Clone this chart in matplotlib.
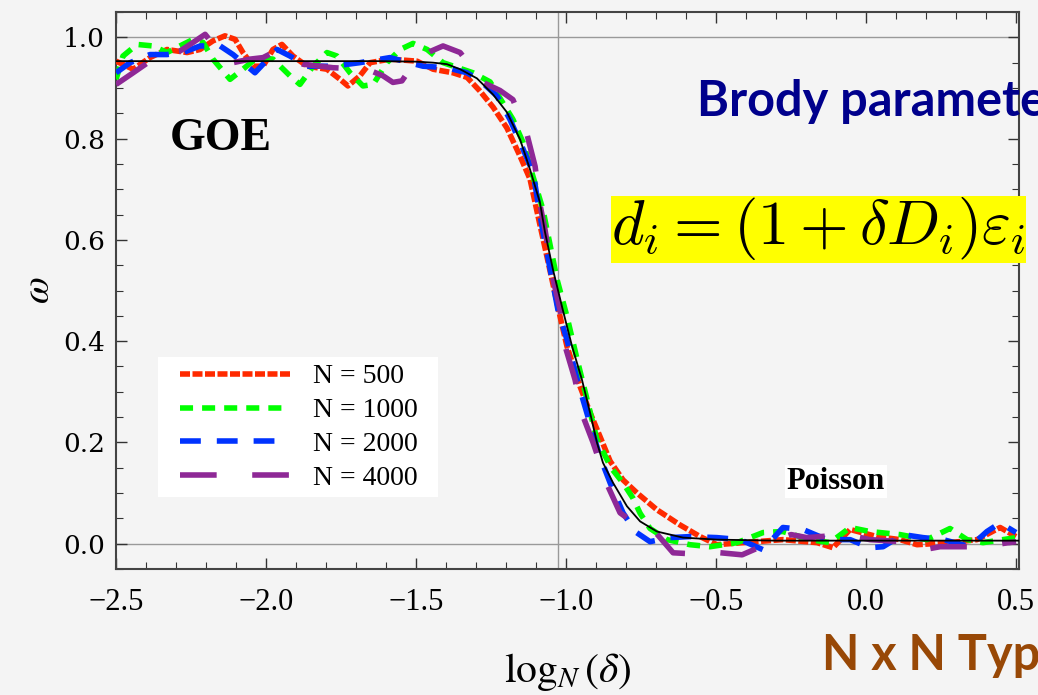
import matplotlib
matplotlib.use("Agg")
import matplotlib.pyplot as plt
from matplotlib.ticker import MultipleLocator
from matplotlib.patches import Rectangle

plt.rcParams['lines.scale_dashes'] = False
plt.rcParams['mathtext.fontset'] = 'stix'

# Brody parameter omega vs log_N(delta) for several matrix sizes
x500 = [-2.50, -2.443, -2.387, -2.33, -2.263, -2.22, -2.177, -2.137, -2.103, -2.077,
        -2.043, -2.01, -1.977, -1.947, -1.91, -1.863, -1.797, -1.753, -1.727, -1.687,
        -1.653, -1.587, -1.497, -1.443, -1.377, -1.33, -1.287, -1.243, -1.197, -1.153,
        -1.12, -1.093, -1.047, -1.02, -0.997, -0.953, -0.92, -0.887, -0.853, -0.81,
        -0.763, -0.697, -0.62, -0.553, -0.497, -0.41, -0.277, -0.163, -0.11, -0.053,
        0.037, 0.113, 0.17, 0.28, 0.37, 0.447, 0.50]
w500 = [0.953, 0.937, 0.96, 0.976, 0.97, 0.976, 0.993, 1.003, 0.996, 0.97,
        0.943, 0.943, 0.976, 0.986, 0.963, 0.943, 0.937, 0.917, 0.904, 0.924,
        0.95, 0.957, 0.953, 0.937, 0.93, 0.921, 0.894, 0.862, 0.821, 0.765,
        0.72, 0.646, 0.522, 0.449, 0.39, 0.31, 0.259, 0.212, 0.163, 0.126,
        0.1, 0.067, 0.037, 0.014, -0.002, 0.002, 0.008, 0.002, -0.008, 0.028,
        0.014, 0.008, -0.002, 0.002, 0.008, 0.032, 0.014]

x1000 = [-2.50, -2.477, -2.43, -2.377, -2.33, -2.287, -2.243, -2.21, -2.177, -2.12,
         -2.077, -2.03, -1.977, -1.92, -1.887, -1.843, -1.797, -1.763, -1.72, -1.677,
         -1.643, -1.597, -1.553, -1.51, -1.463, -1.41, -1.31, -1.253, -1.21, -1.177,
         -1.143, -1.11, -1.077, -1.03, -0.997, -0.963, -0.93, -0.897, -0.85, -0.81,
         -0.777, -0.753, -0.72, -0.663, -0.587, -0.52, -0.43, -0.343, -0.277, -0.187,
         -0.12, -0.053, 0.013, 0.113, 0.203, 0.28, 0.337, 0.39, 0.50]
w1000 = [0.917, 0.963, 0.986, 0.983, 0.97, 0.983, 0.996, 0.99, 0.957, 0.917,
         0.937, 0.96, 0.957, 0.924, 0.907, 0.943, 0.97, 0.963, 0.93, 0.904,
         0.907, 0.95, 0.976, 0.988, 0.976, 0.95, 0.93, 0.912, 0.87, 0.838,
         0.792, 0.725, 0.66, 0.522, 0.449, 0.364, 0.285, 0.206, 0.15, 0.12,
         0.09, 0.06, 0.03, 0.008, -0.002, -0.006, 0.002, 0.022, 0.024, 0.008,
         0.002, 0.032, 0.024, 0.018, 0.008, 0.03, 0.008, 0.002, 0.012]

x2000 = [-2.50, -2.453, -2.387, -2.33, -2.277, -2.22, -2.153, -2.11, -2.063, -2.037,
         -2.01, -1.963, -1.92, -1.863, -1.777, -1.687, -1.587, -1.477, -1.397, -1.33,
         -1.287, -1.23, -1.187, -1.143, -1.11, -1.08, -1.027, -0.997, -0.96, -0.927,
         -0.887, -0.853, -0.81, -0.77, -0.72, -0.653, -0.587, -0.497, -0.42, -0.343,
         -0.277, -0.21, -0.13, -0.053, 0.013, 0.057, 0.123, 0.19, 0.257, 0.347,
         0.403, 0.447, 0.50]
w2000 = [0.93, 0.95, 0.966, 0.966, 0.97, 0.983, 0.983, 0.966, 0.943, 0.93,
         0.947, 0.976, 0.963, 0.943, 0.943, 0.95, 0.96, 0.943, 0.94, 0.93,
         0.915, 0.884, 0.838, 0.779, 0.733, 0.626, 0.462, 0.403, 0.318, 0.251,
         0.172, 0.12, 0.061, 0.024, 0.004, 0.012, 0.014, 0.012, 0.008, -0.012,
         0.032, 0.028, 0.008, 0.008, -0.008, -0.006, 0.018, 0.012, 0.008, -0.006,
         0.024, 0.041, 0.022]

x4000 = [-2.50, -2.443, -2.387, -2.33, -2.287, -2.243, -2.203, -2.163, -2.11, -2.053,
         -2.01, -1.977, -1.93, -1.877, -1.777, -1.663, -1.61, -1.577, -1.547, -1.497,
         -1.453, -1.41, -1.353, -1.277, -1.22, -1.177, -1.13, -1.103, -1.087, -1.07,
         -1.043, -1.02, -1.003, -0.97, -0.943, -0.91, -0.86, -0.82, -0.76, -0.71,
         -0.643, -0.58, -0.52, -0.413, -0.297, -0.25, -0.197, -0.063, 0.013, 0.17,
         0.21, 0.247, 0.38, 0.50]
w4000 = [0.907, 0.93, 0.953, 0.97, 0.973, 0.99, 1.006, 0.976, 0.95, 0.957,
         0.96, 0.97, 0.963, 0.947, 0.94, 0.937, 0.924, 0.911, 0.914, 0.957,
         0.972, 0.983, 0.97, 0.911, 0.895, 0.877, 0.808, 0.745, 0.67, 0.62,
         0.522, 0.462, 0.39, 0.324, 0.251, 0.2, 0.113, 0.061, 0.035, 0.028,
         -0.018, -0.02, -0.016, -0.022, 0.008, 0.018, 0.012, 0.018, 0.008, 0.002,
         -0.01, -0.006, -0.006, 0.004]

# fitted crossover curve
xfit = [-2.50, -1.62, -1.50, -1.443, -1.397, -1.353, -1.297, -1.243, -1.197, -1.153,
        -1.12, -1.087, -1.07, -1.043, -1.01, -0.98, -0.947, -0.92, -0.897, -0.877,
        -0.843, -0.797, -0.753, -0.697, -0.61, -0.497, -0.30, 0.51]
wfit = [0.953, 0.953, 0.952, 0.95, 0.947, 0.937, 0.919, 0.887, 0.852, 0.798,
        0.739, 0.674, 0.615, 0.54, 0.46, 0.39, 0.324, 0.259, 0.2, 0.16,
        0.12, 0.074, 0.044, 0.024, 0.012, 0.008, 0.006, 0.006]

labels = ["N = 500", "N = 1000", "N = 2000", "N = 4000"]
colors = ["#ff2a00", "#00ff00", "#0033ff", "#8e2896"]
dashes = [(7.2, 1.8), (9.4, 6.5), (15, 11.5), (26.4, 25.6)]

W, H = 1038, 695
bg = "#f4f4f4"
fig = plt.figure(figsize=(W / 100, H / 100), dpi=100, facecolor=bg)
ax = fig.add_axes([0.1118, 0.1813, 0.8699, 0.8014], facecolor=bg)

ax.axhline(0, color="#999999", lw=1, zorder=1)
ax.axhline(1, color="#999999", lw=1, zorder=1)
ax.axvline(-1.026, color="#999999", lw=1, zorder=1)

series = [(x500, w500), (x1000, w1000), (x2000, w2000), (x4000, w4000)]
for (xs, ws), lab, c, d in zip(series, labels, colors, dashes):
    ax.plot(xs, ws, color=c, lw=4, dashes=d, label=lab, zorder=3)
ax.plot(xfit, wfit, color="black", lw=1.3, zorder=4)

ax.set_xlim(-2.5, 0.51)
ax.set_ylim(-0.05, 1.05)
ax.xaxis.set_major_locator(MultipleLocator(0.5))
ax.xaxis.set_minor_locator(MultipleLocator(0.1))
ax.yaxis.set_major_locator(MultipleLocator(0.2))
ax.yaxis.set_minor_locator(MultipleLocator(0.05))
ax.tick_params(which="both", direction="in", top=True, right=True, color="#333333")
ax.tick_params(which="major", length=8, width=1)
ax.tick_params(which="minor", length=5, width=0.8)
ax.tick_params(axis="x", pad=14)
ax.tick_params(axis="y", pad=8)
for s in ax.spines.values():
    s.set_color("#444444")
    s.set_linewidth(1.5)

for t in ax.get_xticklabels():
    t.set_fontfamily("Liberation Serif")
    t.set_fontsize(22)
for t in ax.get_yticklabels():
    t.set_fontfamily("DejaVu Serif")
    t.set_fontsize(19)

ax.set_xlabel(r"$\log_N(\delta)$", fontsize=30, labelpad=24)
ax.set_ylabel(r"$\omega$", fontsize=28, labelpad=4)

# white legend panel, drawn separately so its padding can differ per side
ax.add_patch(Rectangle((158 / W, 1 - 497 / H), 280 / W, 140 / H,
                       transform=fig.transFigure, facecolor="white",
                       edgecolor="none", zorder=4.5, clip_on=False))
leg = ax.legend(loc="upper left", bbox_to_anchor=(180 / W, 1 - 364 / H),
                bbox_transform=fig.transFigure, borderaxespad=0, borderpad=0,
                prop={"family": "Liberation Serif", "size": 20},
                handlelength=3.96, handletextpad=0.83, labelspacing=0.3,
                frameon=False)
leg.set_zorder(5)

ax.text(-2.15, 0.80, "GOE", ha="center", va="center", fontsize=33,
        fontweight="bold", family="Liberation Serif")
ax.text(-0.1, 0.123, "Poisson", ha="center", va="center", fontsize=22,
        fontweight="bold", family="Liberation Serif",
        bbox=dict(facecolor="white", edgecolor="none", pad=1.5))

fig.text(697 / W, 1 - 102 / H, "Brody parameter", ha="left", va="center",
         fontsize=35, fontweight="bold", color="#00008c", family="Lato")
fig.text(611 / W, 1 - 229 / H, r"$d_i = (1 + \delta D_i)\varepsilon_i$",
         ha="left", va="center", fontsize=45, math_fontfamily="cm",
         bbox=dict(facecolor="#ffff00", edgecolor="none", pad=0))
fig.text(822 / W, 1 - 655 / H, "N x N Type", ha="left", va="center",
         fontsize=35, fontweight="bold", color="#984806", family="Lato")

fig.savefig("out.png", dpi=100, facecolor=bg)
